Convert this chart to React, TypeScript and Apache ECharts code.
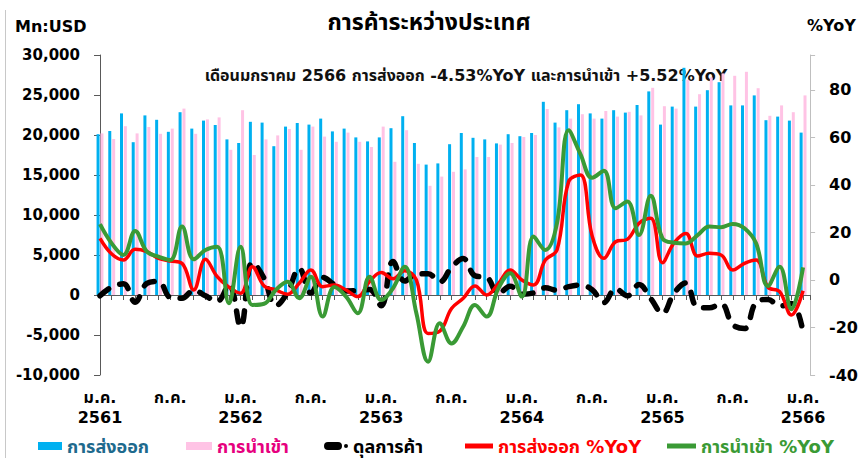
import { useEffect, useRef } from 'react';
import * as echarts from 'echarts';

// Monthly data, ม.ค. 2561 (Jan 2018) ... ม.ค. 2566 (Jan 2023) — 61 months
const exportsUSD = [
  20100, 20500, 22700, 19100, 22450, 21900, 20400, 22850, 20800, 21800,
  21250, 19450, 19000, 21650, 21550, 18600, 21050, 21500, 21300, 22050,
  20450, 20800, 19700, 19200, 19700, 20850, 22350, 19000, 16300, 16450,
  18850, 20250, 19650, 19450, 18950, 20100, 19850, 20250, 24150, 21550,
  23100, 23850, 22700, 22050, 23100, 22800, 23750, 25450, 21300, 23550,
  28400, 23550, 25600, 26600, 23700, 23700, 24950, 21850, 22300, 21800,
  20300,
];
const importsUSD = [
  20200, 19500, 21100, 20200, 21000, 20150, 20800, 23300, 20150, 21950,
  22200, 18150, 23100, 17500, 19450, 19950, 20750, 18150, 21050, 19800,
  19150, 20300, 19150, 18500, 21050, 16650, 20600, 16400, 13650, 14800,
  15400, 15700, 17250, 17250, 18800, 19000, 19750, 20000, 23250, 20950,
  22050, 22600, 22050, 23000, 22300, 22900, 22450, 25900, 23600, 23300,
  26900, 25100, 27200, 27700, 27400, 27900, 25850, 22400, 23700, 22850,
  24950,
];
const balanceUSD = [
  -100, 1000, 1400, -900, 1450, 1700, -300, -400, 600, -100,
  -800, 1300, -4000, 4100, 2100, -1350, 300, 3350, 250, 2200,
  1300, 500, 550, 700, -1350, 4200, 1750, 2600, 2650, 1650,
  3450, 4550, 2400, 2200, 150, 1100, 100, 250, 900, 600,
  1050, 1250, 650, -950, 800, -100, 1300, -450, -2300, 250,
  1500, -1550, -1600, -1100, -3700, -4200, -900, -550, -1400, -1050,
  -4650,
];
const exportsYoY = [
  17.5, 10.9, 8.4, 12.9, 11.9, 9.1, 8.0, 7.0, -4.2, 8.7,
  1.4, -3.0, -5.6, 5.6, -2.5, -4.2, -6.0, -1.4, 4.2, -2.8,
  -2.1, -4.2, -7.0, -0.7, 3.1, 0.5, 3.9, 0.0, -22.5, -21.5,
  -12.0, -7.7, -2.5, -6.3, -1.5, 4.2, 0.0, -2.1, 8.4, 12.6,
  41.5, 44.2, 18.5, 9.1, 16.1, 17.1, 23.9, 26.0, 7.3, 15.7,
  19.6, 10.1, 11.2, 10.5, 4.2, 7.0, 8.4, -3.0, -4.9, -14.7,
  -4.5,
];
const importsYoY = [
  23.5, 15.4, 10.5, 20.6, 11.9, 9.8, 8.4, 22.5, 8.7, 12.6,
  14.0, -9.8, 14.0, -10.5, -10.0, -4.2, -0.7, -7.7, 1.4, -15.4,
  -3.0, -7.0, -14.0, 1.4, -8.4, -3.5, 5.6, -14.0, -34.4, -18.2,
  -26.7, -19.6, -10.5, -15.4, -3.5, 2.8, -7.0, 18.3, 12.6, 23.9,
  63.0, 53.0, 43.0, 46.0, 30.2, 33.0, 18.9, 35.5, 17.5, 15.7,
  15.4, 18.9, 22.5, 22.2, 23.6, 21.8, 15.4, -2.5, 5.6, -12.3,
  5.3,
];
const xTickLabels = [
  'ม.ค.\n2561', 'ก.ค.', 'ม.ค.\n2562', 'ก.ค.', 'ม.ค.\n2563', 'ก.ค.',
  'ม.ค.\n2564', 'ก.ค.', 'ม.ค.\n2565', 'ก.ค.', 'ม.ค.\n2566',
];
const seriesNames = ['การส่งออก', 'การนำเข้า', 'ดุลการค้า', 'การส่งออก %YoY', 'การนำเข้า %YoY'];

const FONT = "'DejaVu Sans', 'Noto Sans Thai', Tahoma, 'Noto Sans', sans-serif";
const C_EXP = '#00B0F0';
const C_IMP = '#FFC3E5';
const C_RED = '#FF0000';
const C_GREEN = '#3A9A35';

export default function App() {
  const ref = useRef<HTMLDivElement>(null);
  useEffect(() => {
    if (!ref.current) return;
    const chart = echarts.init(ref.current, undefined, { renderer: 'svg' });
    const xy = (arr: number[]) => arr.map((v, i) => [i, v]);
    const legendBase = {
      top: 436,
      padding: 0,
      itemGap: 0,
      selectedMode: false,
      textStyle: { fontFamily: FONT, fontWeight: 'bold', fontSize: 18, lineHeight: 20 },
    };
    chart.setOption({
      animation: false,
      backgroundColor: '#ffffff',
      textStyle: { fontFamily: FONT },
      grid: { left: 100, right: 50, top: 55, bottom: 83, containLabel: false },
      xAxis: [
        {
          type: 'value', min: 0, max: 60.6, interval: 1,
          axisLine: { show: true, onZero: true, onZeroAxisIndex: 0, lineStyle: { color: '#595959', width: 1 } },
          axisTick: { show: true, length: 5, lineStyle: { color: '#595959' } },
          axisLabel: { show: false },
          splitLine: { show: false },
        },
        {
          type: 'value', min: 0, max: 60.6, interval: 6, position: 'bottom',
          axisLine: { show: false, onZero: false },
          axisTick: { show: false },
          splitLine: { show: false },
          axisLabel: {
            margin: 12,
            fontFamily: FONT, fontWeight: 'bold', fontSize: 16, lineHeight: 20, color: '#000',
            formatter: (v: number) => (Number.isInteger(v) && v % 6 === 0 ? xTickLabels[v / 6] : ''),
          },
        },
      ],
      yAxis: [
        {
          type: 'value', min: -10000, max: 30000, interval: 5000, position: 'left',
          axisLine: { show: true, onZero: false, lineStyle: { color: '#595959' } },
          axisTick: { show: true, length: 6, lineStyle: { color: '#595959' } },
          splitLine: { show: false },
          axisLabel: {
            margin: 20, fontFamily: FONT, fontWeight: 'bold', fontSize: 15, color: '#000',
            formatter: (v: number) => v.toLocaleString('en-US'),
          },
        },
        {
          type: 'value', min: -40, max: 94.7, interval: 20, position: 'right',
          axisLine: { show: true, onZero: false, lineStyle: { color: '#bfbfbf' } },
          axisTick: { show: true, length: 5, lineStyle: { color: '#bfbfbf' } },
          splitLine: { show: false },
          axisLabel: {
            margin: 19, fontFamily: FONT, fontWeight: 'bold', fontSize: 16, color: '#000',
            formatter: (v: number) => (Math.abs(v % 20) < 1e-9 ? String(v) : ''),
          },
        },
      ],
      legend: [
        { ...legendBase, left: 38, itemWidth: 24, itemHeight: 8,
          data: [{ name: seriesNames[0], icon: 'rect', textStyle: { color: '#1E6A8D' } }] },
        { ...legendBase, left: 186, itemWidth: 26, itemHeight: 8,
          data: [{ name: seriesNames[1], icon: 'rect', textStyle: { color: '#E6007E' } }] },
        { ...legendBase, left: 324, itemWidth: 24, itemHeight: 8,
          data: [{ name: seriesNames[2], icon: 'path://M4,0 H14 A4,4 0 0 1 14,8 H4 A4,4 0 0 1 4,0 Z M22,2 A2,2 0 1 1 22,6 A2,2 0 1 1 22,2 Z', textStyle: { color: '#000' } }] },
        { ...legendBase, left: 465, itemWidth: 28, itemHeight: 5,
          data: [{ name: seriesNames[3], icon: 'rect', textStyle: { color: C_RED } }] },
        { ...legendBase, left: 667, itemWidth: 29, itemHeight: 5,
          data: [{ name: seriesNames[4], icon: 'rect', textStyle: { color: C_GREEN } }] },
      ],
      graphic: [
        { type: 'line', shape: { x1: 5.5, y1: 10, x2: 5.5, y2: 458 }, style: { stroke: '#c8c8c8', lineWidth: 1 } },
        { type: 'text', x: 429, y: 22, style: { text: 'การค้าระหว่างประเทศ', fill: '#000', font: `bold 23px ${FONT}`, textAlign: 'center', textVerticalAlign: 'middle' } },
        { type: 'text', x: 466, y: 75, style: { text: 'เดือนมกราคม 2566 การส่งออก -4.53%YoY และการนำเข้า +5.52%YoY', fill: '#111', font: `bold 16px ${FONT}`, textAlign: 'center', textVerticalAlign: 'middle' } },
        { type: 'text', x: 15, y: 26, style: { text: 'Mn:USD', fill: '#000', font: `bold 16px ${FONT}`, textAlign: 'left', textVerticalAlign: 'middle' } },
        { type: 'text', x: 807, y: 25, style: { text: '%YoY', fill: '#000', font: `bold 16px ${FONT}`, textAlign: 'left', textVerticalAlign: 'middle' } },
      ],
      series: [
        { name: seriesNames[0], type: 'bar', xAxisIndex: 0, yAxisIndex: 0, data: xy(exportsUSD),
          barWidth: 3, barGap: '30%', itemStyle: { color: C_EXP } },
        { name: seriesNames[1], type: 'bar', xAxisIndex: 0, yAxisIndex: 0, data: xy(importsUSD),
          barWidth: 3, barGap: '30%', itemStyle: { color: C_IMP } },
        { name: seriesNames[2], type: 'line', xAxisIndex: 0, yAxisIndex: 0, data: xy(balanceUSD),
          smooth: 0.4, symbol: 'none', itemStyle: { color: '#000' },
          lineStyle: { color: '#000', width: 5.5, type: [11, 12], cap: 'round' } },
        { name: seriesNames[3], type: 'line', xAxisIndex: 0, yAxisIndex: 1, data: xy(exportsYoY),
          smooth: 0.4, symbol: 'none', itemStyle: { color: C_RED },
          lineStyle: { color: C_RED, width: 3.5 } },
        { name: seriesNames[4], type: 'line', xAxisIndex: 0, yAxisIndex: 1, data: xy(importsYoY),
          smooth: 0.4, symbol: 'none', itemStyle: { color: C_GREEN },
          lineStyle: { color: C_GREEN, width: 4 } },
      ],
    });
    return () => chart.dispose();
  }, []);
  return <div ref={ref} style={{ position: 'absolute', left: 0, top: 0, width: 861, height: 458 }} />;
}
